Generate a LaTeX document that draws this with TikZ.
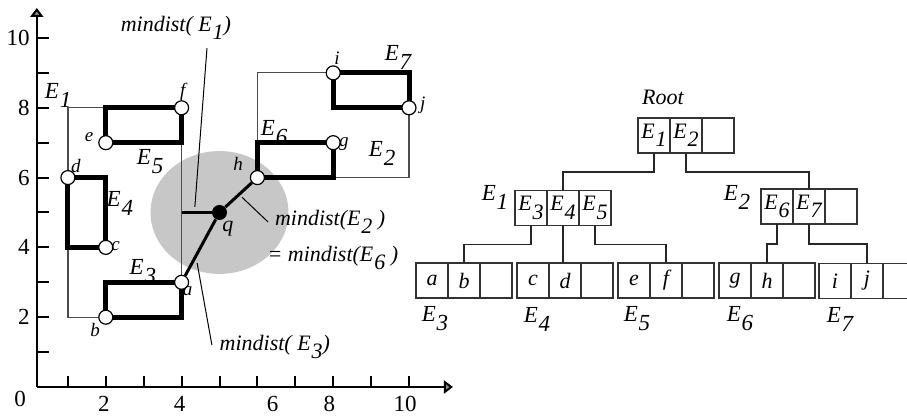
\documentclass[tikz,border=0pt]{standalone}
\usepackage{fontspec}
\setmainfont{Liberation Serif}
\usetikzlibrary{positioning,arrows.meta}

% E with a low index
\newcommand{\Ei}[1]{\textit{E\kern0.04em\raisebox{-0.85ex}{#1}}}
% three entries of an R-tree node
\newcommand{\entrybox}[5]{%
  \node[cell] (#1-1) at (#2) {#3};
  \node[cell,right=0pt of #1-1] (#1-2) {#4};
  \node[cell,right=0pt of #1-2] (#1-3) {#5};}

\begin{document}
\begin{tikzpicture}[x=0.5pt,y=0.5pt,
  axis/.style={line width=1pt},
  mbr/.style={line width=0.6pt,black!70},
  box/.style={line width=2.5pt},
  qline/.style={line width=1.5pt},
  lead/.style={line width=0.5pt},
  pnt/.style={circle,draw,fill=white,line width=0.6pt,minimum size=7pt,inner sep=0pt},
  qpnt/.style={circle,fill=black,minimum size=7.5pt,inner sep=0pt},
  plbl/.style={font=\fontsize{9.5}{10}\selectfont\itshape,inner sep=0pt},
  lbl/.style={font=\fontsize{11}{12}\selectfont\itshape,inner sep=0pt},
  elbl/.style={font=\fontsize{11.5}{12}\selectfont\itshape,inner sep=0pt},
  num/.style={font=\fontsize{11.5}{12}\selectfont,inner sep=0pt},
  cell/.style={draw=black!80,line width=0.6pt,minimum width=16pt,minimum height=17.5pt,
    inner sep=0pt,outer sep=0pt,font=\fontsize{11}{12}\selectfont\itshape},
  link/.style={line width=0.6pt,black!85}]

\useasboundingbox (0,0) rectangle (907,416);
\clip (0,0) rectangle (907,416);

% Data space
\begin{scope}[shift={(15pt,14.5pt)},x=18.95pt,y=17.45pt]

% search circle
\fill[black!22] (5,5) ellipse [x radius=1.82,y radius=1.76];

% axes
\coordinate (O) at (0.18,0);
\draw[axis,-{Triangle[length=4.5pt,width=6.5pt,fill=black!45]}] (O) -- (11.16,0);
\draw[axis,-{Triangle[length=4.5pt,width=6.5pt,fill=black!45]}] (O) -- (0.18,10.86);
\foreach \k in {1,...,10}{
  \draw[axis] (\k,0) -- ++(0,0.32);
  \draw[axis] (0.18,\k) -- ++(0.32,0);
}
\foreach \k in {2,4,...,10}
  \node[num,anchor=east] (y\k) at (0,\k) {\k};
\foreach \k/\p in {2/1.95,4/3.95,6/6.4,8/7.9,10/9.9}
  \node[num] (x\k) at (\p,-0.49) {\k};
\node[num] (x0) at (-0.26,-0.34) {0};

% E1 and E2
\draw[mbr] (1,2) rectangle (4,8);
\draw[mbr] (6,6) rectangle (10,9);

% leaf rectangles
\draw[box] (2,2) rectangle (4,3);
\draw[box] (1,4) rectangle (2,6);
\draw[box] (2,7) rectangle (4,8);
\draw[box] (6,6) rectangle (8,7);
\draw[box] (8,8) rectangle (10,9);

% points
\node[pnt] (a) at (4,3) {};
\node[pnt] (b) at (2,2) {};
\node[pnt] (c) at (2,4) {};
\node[pnt] (d) at (1,6) {};
\node[pnt] (e) at (2,7) {};
\node[pnt] (f) at (4,8) {};
\node[pnt] (g) at (8,7) {};
\node[pnt] (h) at (6,6) {};
\node[pnt] (i) at (8,9) {};
\node[pnt] (j) at (10,8) {};
\node[qpnt] (q) at (5,5) {};

% distances from q
\coordinate (p1) at (4,5);
\draw[qline] (q) -- (a);
\draw[qline] (q) -- (h);
\draw[qline] (q) -- (p1);

\node[plbl] (la) at (4.16,2.75) {a};
\node[plbl] (lb) at (1.72,1.63) {b};
\node[plbl] (lc) at (2.26,4.04) {c};
\node[plbl] (ld) at (1.21,6.32) {d};
\node[plbl] (le) at (1.56,7.16) {e};
\node[plbl] (lf) at (4.03,8.45) {f};
\node[plbl] (lg) at (8.28,6.95) {g};
\node[plbl] (lh) at (5.49,6.39) {h};
\node[plbl] (li) at (8.1,9.43) {i};
\node[plbl] (lj) at (10.36,8.06) {j};
\node[lbl] (lq) at (5.22,4.53) {q};

\node[elbl] (lE1) at (0.74,8.34) {\Ei{1}};
\node[elbl] (lE2) at (9.29,6.7) {\Ei{2}};
\node[elbl] (lE3) at (2.98,3.3) {\Ei{3}};
\node[elbl] (lE4) at (2.37,5.27) {\Ei{4}};
\node[elbl] (lE5) at (3.17,6.45) {\Ei{5}};
\node[elbl] (lE6) at (6.44,7.28) {\Ei{6}};
\node[elbl] (lE7) at (9.71,9.43) {\Ei{7}};

% mindist labels
\node[lbl] (m1) at (3.85,10.29) {mindist( \Ei{1})};
\node[lbl] (m2) at (7.92,4.73) {mindist(\Ei{2} )};
\node[lbl] (m6) at (7.99,3.7) {= mindist(\Ei{6} )};
\node[lbl] (m3) at (6.46,1.15) {mindist( \Ei{3})};
\coordinate (m1a) at (4.67,9.71);
\coordinate (m1b) at (4.35,5.16);
\coordinate (m2a) at (5.59,5.44);
\coordinate (m2b) at (6.28,4.73);
\coordinate (m3a) at (4.41,3.55);
\coordinate (m3b) at (4.8,1.2);
\draw[lead] (m1a) -- (m1b);
\draw[lead] (m2a) -- (m2b);
\draw[lead] (m3a) -- (m3b);

\end{scope}

% R-tree
\node[lbl] (root) at (663,319) {Root};
\entrybox{R}{654,280.5}{\Ei{1}}{\Ei{2}}{}

\entrybox{N1}{531,208}{\Ei{3}}{\Ei{4}}{\Ei{5}}
\entrybox{N2}{777,209.5}{\Ei{6}}{\Ei{7}}{}
\node[elbl] (lN1) at (495,219) {\Ei{1}};
\node[elbl] (lN2) at (737,219) {\Ei{2}};

\entrybox{L3}{432,135.5}{a}{b}{}
\entrybox{L4}{533,135.5}{c}{d}{}
\entrybox{L5}{634,135.5}{e}{f}{}
\entrybox{L6}{735,135.5}{g}{h}{}
\entrybox{L7}{835,135}{i}{j}{}
\node[elbl] (n3) at (435,97) {\Ei{3}};
\node[elbl] (n4) at (537,97) {\Ei{4}};
\node[elbl] (n5) at (637,97) {\Ei{5}};
\node[elbl] (n6) at (740,97) {\Ei{6}};
\node[elbl] (n7) at (840,97) {\Ei{7}};

% links
\draw[link] (R-1.south) -- ++(0,-19) -| (N1-2.north);
\draw[link] (R-2.south) -- ++(0,-19) -| (N2-2.north);
\draw[link] (N1-1.south) -- ++(0,-19) -| (L3-2.north);
\draw[link] (N1-2.south) -- (N1-2.south |- L4-2.north);
\draw[link] (N1-3.south) -- ++(0,-19) -| (L5-2.north);
\draw[link] (N2-1.south) -- ++(0,-20) -| (L6-2.north);
\draw[link] (N2-2.south) -- ++(0,-20) -| (L7-2.north);

\end{tikzpicture}
\end{document}
